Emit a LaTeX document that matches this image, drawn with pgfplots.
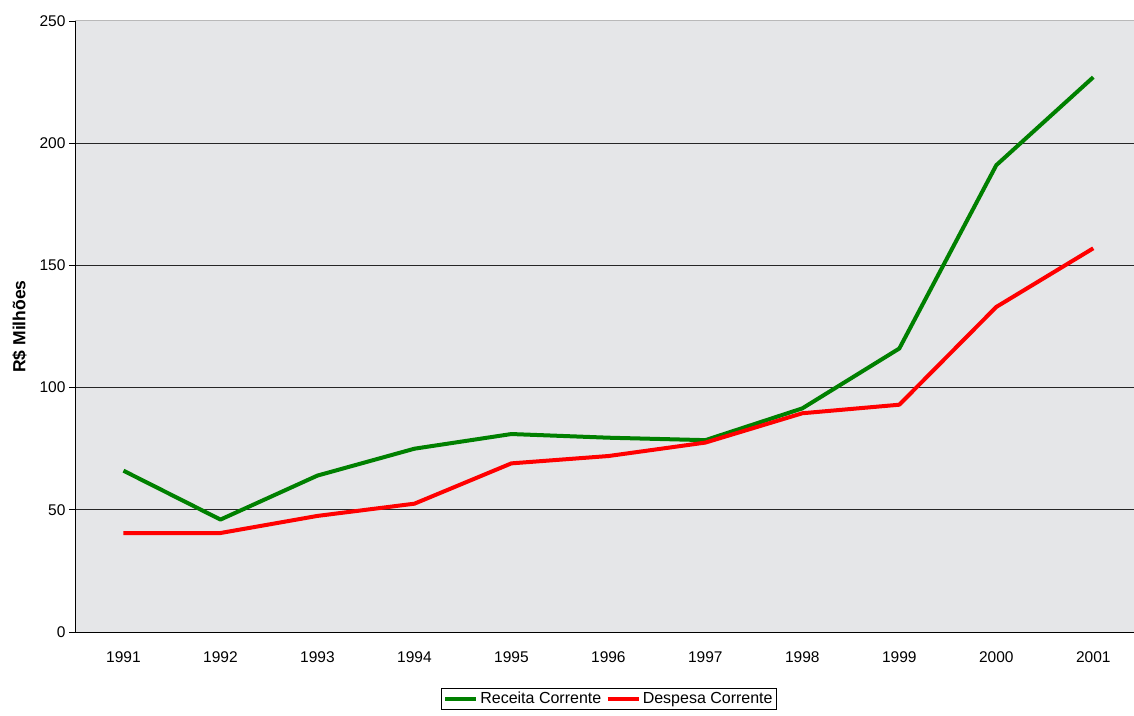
\documentclass[border=0pt]{standalone}
\usepackage{pgfplots}
\pgfplotsset{compat=1.18}
\usepackage{fontspec}
\setmainfont{Liberation Sans}

\definecolor{marble}{RGB}{229,230,232}
\definecolor{receita}{RGB}{0,128,0}
\definecolor{despesa}{RGB}{255,0,0}

\begin{document}
\begin{tikzpicture}
\path[use as bounding box] (-75pt,-83pt) rectangle (1059pt,632pt);
\begin{axis}[
  scale only axis,
  width=1059pt, height=611pt,
  xmin=-0.5, xmax=10.42,
  ymin=0, ymax=250,
  axis x line*=bottom, axis y line*=left,
  axis line style={black, line width=0.8pt},
  axis background/.style={fill=marble},
  font=\fontsize{15.5}{18}\selectfont,
  ticklabel style={font=\fontsize{15.5}{18}\selectfont},
  /pgf/number format/assume math mode=true,
  tick align=outside,
  ytick={0,50,...,200},
  ytick style={black, line width=0.8pt},
  extra y ticks={250},
  extra y tick style={grid=none},
  major tick length=6pt,
  ymajorgrids,
  major grid style={black!85, line width=0.8pt},
  xtick={0,...,10},
  xticklabels={1991,1992,1993,1994,1995,1996,1997,1998,1999,2000,2001},
  xtick style={draw=none},
  xticklabel style={yshift=-10pt},
  extra x ticks={0.5,1.5,...,9.5},
  extra x tick labels={},
  extra x tick style={tick style={draw=black, line width=0.8pt}},
  ylabel={\textbf{R\$ Milhões}},
  ylabel style={font=\fontsize{17.5}{20}\selectfont, yshift=-6pt},
  legend columns=2,
  legend style={
    at={(rel axis cs:0.504,-0.0917)}, anchor=north,
    draw=black, line width=0.6pt, fill=white,
    inner sep=2pt,
    font=\fontsize{16}{19}\selectfont,
    nodes={inner sep=2pt},
    /tikz/every even column/.append style={column sep=2pt},
  },
  legend image code/.code={\draw[#1, line width=4.5pt] (0pt,0pt) -- (31pt,0pt);},
  clip=false,
]
\addplot[receita, line width=4pt, line join=round] coordinates {
  (0,66) (1,46) (2,64) (3,75) (4,81) (5,79.5) (6,78.5) (7,91.5) (8,116) (9,191) (10,227)
};
\addlegendentry{Receita Corrente}
\addplot[despesa, line width=4pt, line join=round] coordinates {
  (0,40.5) (1,40.5) (2,47.5) (3,52.5) (4,69) (5,72) (6,77.5) (7,89.5) (8,93) (9,133) (10,157)
};
\addlegendentry{Despesa Corrente}
\draw[gray!55, line width=1pt] (rel axis cs:0,1) -- (rel axis cs:1,1);
\end{axis}
\end{tikzpicture}
\end{document}
